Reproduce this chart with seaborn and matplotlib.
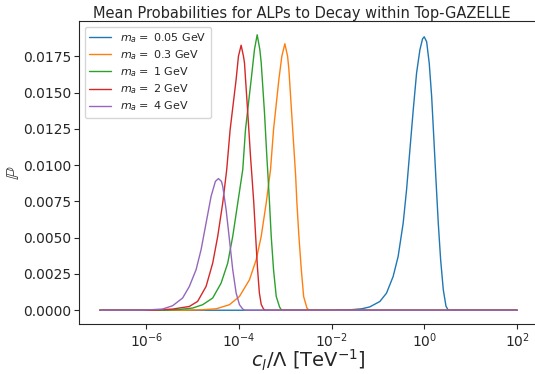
import numpy as np
import pandas as pd
import seaborn as sns
import matplotlib.pyplot as plt

masses = ["0.05", "0.3", "1", "2", "4"]

# log10(c_l / Lambda) and mean decay probability
logc_005 = [-7, -2.0, -1.6, -1.35, -1.178, -0.962, -0.817, -0.675, -0.567, -0.458, -0.385,
            -0.313, -0.241, -0.169, -0.097, -0.04, -0.004, 0.048, 0.104, 0.156, 0.205,
            0.249, 0.299, 0.350, 0.407, 0.465, 0.515, 2]
prob_005 = [0, 0, 0.00003, 0.0001, 0.00023, 0.0006, 0.00118, 0.00232, 0.0037, 0.006, 0.0083,
            0.01105, 0.0138, 0.01634, 0.01795, 0.0187, 0.01884, 0.0185, 0.01702, 0.01474, 0.01175,
            0.009, 0.006, 0.00348, 0.00142, 0.00028, 0, 0]

logc_03 = [-7, -5.2, -4.8, -4.49, -4.205, -3.989, -3.773, -3.628, -3.52, -3.412, -3.319,
           -3.254, -3.139, -3.075, -3.01, -2.951, -2.923, -2.85, -2.778, -2.75, -2.707,
           -2.655, -2.605, -2.534, -2.49, 2]
prob_03 = [0, 0, 0.00003, 0.0001, 0.00038, 0.00095, 0.0021, 0.00348, 0.00509, 0.00739, 0.00969,
           0.01245, 0.0159, 0.0175, 0.01836, 0.0175, 0.01659, 0.01291, 0.0093, 0.00739, 0.00509,
           0.00279, 0.00095, 0.00015, 0, 0]

logc_1 = [-7, -5.6, -5.3, -4.999, -4.783, -4.566, -4.385, -4.242, -4.134, -4.026, -3.918,
          -3.859, -3.736, -3.665, -3.607, -3.55, -3.52, -3.449, -3.399, -3.369, -3.341,
          -3.304, -3.254, -3.196, -3.124, -3.08, 2]
prob_1 = [0, 0, 0.00005, 0.00015, 0.00038, 0.00084, 0.00187, 0.00325, 0.00509, 0.00739, 0.00969,
          0.01245, 0.0159, 0.01797, 0.01898, 0.01797, 0.01705, 0.0136, 0.01061, 0.009, 0.00739,
          0.00509, 0.00279, 0.00095, 0.00022, 0, 0]

logc_2 = [-7, -5.9, -5.43, -5.07, -4.891, -4.709, -4.566, -4.458, -4.35, -4.264, -4.19,
          -4.061, -4.011, -3.953, -3.903, -3.881, -3.81, -3.751, -3.715, -3.68, -3.64,
          -3.6, -3.56, -3.52, -3.47, -3.43, 2]
prob_2 = [0, 0, 0.00008, 0.00026, 0.00061, 0.00164, 0.00325, 0.00509, 0.00739, 0.00969, 0.01245,
          0.0159, 0.0175, 0.01826, 0.0175, 0.01705, 0.0136, 0.01061, 0.009, 0.00739, 0.0051,
          0.0029, 0.0012, 0.0004, 0.00008, 0, 0]

logc_4 = [-7, -6.1, -5.648, -5.431, -5.215, -5.07, -4.925, -4.817, -4.709, -4.601, -4.508,
          -4.443, -4.378, -4.35, -4.277, -4.205, -4.134, -4.061, -3.989, -3.918, -3.87, 2]
prob_4 = [0, 0, 0.00008, 0.00031, 0.00084, 0.00164, 0.00279, 0.00417, 0.00601, 0.00785, 0.00888,
          0.00907, 0.00888, 0.00854, 0.00693, 0.00486, 0.00279, 0.00119, 0.00038, 0.00008, 0, 0]

curves = [(logc_005, prob_005), (logc_03, prob_03), (logc_1, prob_1),
          (logc_2, prob_2), (logc_4, prob_4)]

labels = [r"$m_a = $ " + m + " GeV" for m in masses]
frames = []
for lab, (lc, p) in zip(labels, curves):
    frames.append(pd.DataFrame({"c": 10.0 ** np.array(lc), "P": p, "mass": lab}))
df = pd.concat(frames, ignore_index=True)

sns.set_style("ticks")
plt.rcParams["font.family"] = ["DejaVu Sans"]
plt.rcParams["mathtext.fontset"] = "dejavusans"

fig = plt.figure(figsize=(5.35, 3.74), dpi=100)
ax = fig.add_axes([79 / 535, 1 - 324 / 374, (538 - 79) / 535, (324 - 21) / 374])
ax.set_xscale("log")
sns.lineplot(data=df, x="c", y="P", hue="mass", hue_order=labels,
             palette=sns.color_palette("tab10", 5), linewidth=1.0,
             estimator=None, ax=ax)

ax.set_title("Mean Probabilities for ALPs to Decay within Top-GAZELLE",
             fontsize=10.5, pad=2.5, x=0.485)
ax.set_xlabel(r"$c_l/\Lambda$ [TeV$^{-1}$]", fontsize=14)
ax.xaxis.set_label_coords(0.5, -0.08)
ax.set_ylabel(r"$\mathbb{P}$", fontsize=13)
ax.yaxis.set_label_coords(-0.122, 0.5)
ax.tick_params(labelsize=10, pad=2)
sns.move_legend(ax, "upper left", title=None, fontsize=8, labelspacing=0.3)

fig.savefig("out.png", dpi=100)
